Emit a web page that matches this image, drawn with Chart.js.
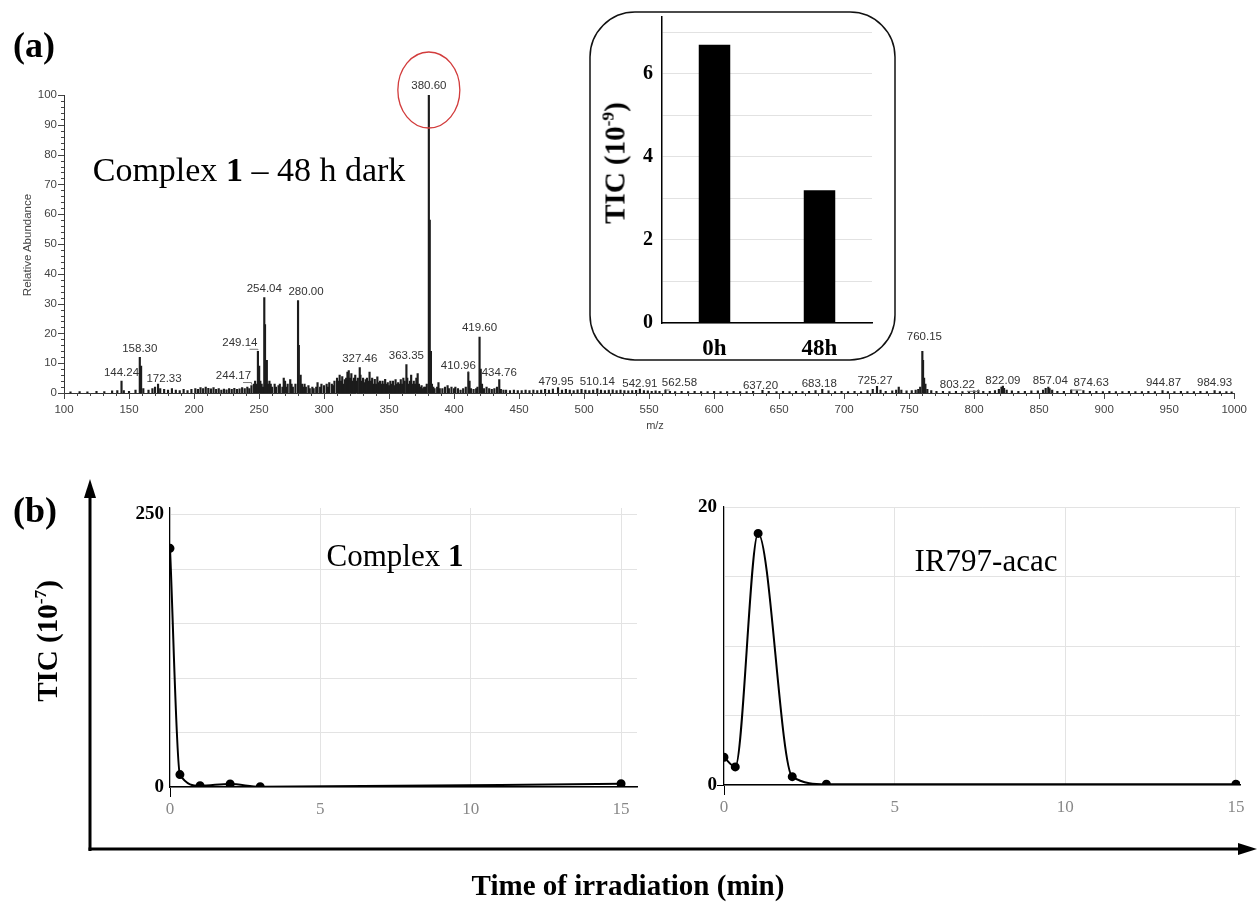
<!DOCTYPE html>
<html>
<head>
<meta charset="utf-8">
<script src="https://cdn.jsdelivr.net/npm/chart.js@4.4.0/dist/chart.umd.min.js"></script>
<style>
body { margin:0; background:#fff; width:1257px; height:907px; position:relative; overflow:hidden; }
canvas, svg, .txt { position:absolute; }
.txt { white-space:nowrap; line-height:1; font-family:"Liberation Serif", serif; color:#000; transform:translate(-50%,-50%); }
.rot { transform:translate(-50%,-50%) rotate(-90deg); }
.txt sup { font-size:0.6em; line-height:0; }
</style>
</head>
<body>
<canvas id="spectrum" width="1257" height="400" style="left:0;top:40px"></canvas>
<svg width="1257" height="907" style="left:0;top:0">
  <rect x="590" y="12" width="305" height="348" rx="45" ry="45" fill="#fff" stroke="#111" stroke-width="1.5"/>
  <line x1="90" y1="851" x2="90" y2="496" stroke="#000" stroke-width="3"/>
  <polygon points="90,479 84,498 96,498" fill="#000"/>
  <line x1="88.5" y1="849" x2="1240" y2="849" stroke="#000" stroke-width="3"/>
  <polygon points="1257,849 1238,843 1238,855" fill="#000"/>
</svg>
<canvas id="inset" width="305" height="348" style="left:590px;top:12px"></canvas>
<canvas id="chartComplex" width="560" height="340" style="left:100px;top:490px"></canvas>
<canvas id="chartIR" width="597" height="340" style="left:660px;top:490px"></canvas>

<div class="txt" style="left:34px;top:45px;font-size:36px;font-weight:bold">(a)</div>
<div class="txt" style="left:35px;top:510px;font-size:36px;font-weight:bold">(b)</div>
<div class="txt" style="left:249px;top:170px;font-size:34px">Complex <b>1</b> – 48 h dark</div>
<div class="txt rot" style="left:28px;top:245px;font-family:'Liberation Sans',sans-serif;font-size:11.5px;color:#444">Relative Abundance</div>
<div class="txt" style="left:655px;top:425px;font-family:'Liberation Sans',sans-serif;font-size:11px;color:#444">m/z</div>
<div class="txt rot" style="left:615px;top:163px;font-size:29px;font-weight:bold">TIC (10<sup>-9</sup>)</div>
<div class="txt rot" style="left:47px;top:641px;font-size:29px;font-weight:bold">TIC (10<sup>-7</sup>)</div>
<div class="txt" style="left:395px;top:555px;font-size:31px">Complex <b>1</b></div>
<div class="txt" style="left:986px;top:560px;font-size:31px">IR797-acac</div>
<div class="txt" style="left:628px;top:885px;font-size:29px;font-weight:bold">Time of irradiation (min)</div>

<script>
// ---- (a) mass spectrum, m/z vs relative abundance ----
var spectrum = [
  [105,0.4],[112,0.5],[118,0.4],[125,0.6],[131,0.5],[137,0.7],[141,0.8],[144.24,4],[146,0.8],[150,0.6],
  [155,1.0],[158.30,12],[159.3,9],[161,1.5],[165,1],[168,1.5],[170,2],[172.33,3],[174,1.5],[177,1.2],
  [180,1],[183,1.5],[186,1],[189,0.8],[192,1.2],[195,0.8],[198,1.2],[201,1.5],[203,1.2],[205,1.8],
  [207,1.5],[209,2],[211,1.6],[213,1.4],[215,1.8],[217,1.2],[219,1.5],[221,1],[223,1.3],[225,1.1],
  [227,1.5],[229,1.2],[231,1.6],[233,1.2],[235,1.4],[237,1.8],[239,1.5],[241,2],[242.5,1.5],[244.17,2.5],
  [246,3],[247,4],[248,3],[249.14,14],[250.1,9],[251,4],[252,3],[253,2],[254.04,32],[254.6,23],
  [255.5,4],[256,11],[257,3],[258,4],[259,3],[260,2],[262,3],[263,2],[265,2.5],[266,3],
  [268,2],[269,5],[270,4],[271,2],[272,3],[274,4.5],[275,3],[276,2],[278,3],[280.00,31],
  [280.6,16],[282,6],[283,3],[284,2],[285,3],[286,2],[288,2.5],[289,1.5],[291,2],[292,1.5],
  [294,2],[295,3.5],[297,2],[298,3],[300,2.5],[302,3],[303,2],[304,3.5],[306,3],[307,2.5],
  [308,4],[310,5],[311,4],[312,6],[313,4],[314,5.5],[315,3],[316,4.5],[317,5],[318,7],
  [319,7.5],[320,5],[321,6.5],[322,4],[323,5],[324,6],[325,4],[326,5],[327.46,8.5],[328,6],
  [329,4],[330,5],[331,3.5],[332,4.5],[333,5],[334,4],[335,7],[336,4],[337,5],[338,3],
  [339,4.6],[340,3],[341,5.4],[342,3.5],[343,4],[344,3],[345,4],[346,3],[347,4.6],[348,3],
  [349,3.5],[350,2.5],[351,4],[352,3],[353,4],[354,2.5],[355,4.5],[356,3],[357,3.5],[358,3],
  [359,4.5],[360,3],[361,5],[362,4],[363.35,9.5],[364,5],[365,3],[366,4],[367,6],[368,3],
  [369,4],[370,3],[371,5],[372,6.5],[373,3],[374,2],[375,2.5],[376,1.5],[377,2],[378,2],
  [379,3],[380.60,100],[381.3,58],[382.2,14],[383,3],[384,2],[385,1.5],[387,2],[388,3.5],[389,1.5],
  [391,1.5],[393,2],[395,2.5],[396,1.5],[398,2],[400,1.5],[401,2],[403,1.5],[405,1],[407,1.5],
  [409,2],[410.96,7],[411.9,4],[413,1.5],[415,1.2],[417,1.5],[418,2],[419.60,18.8],[420.5,8],[421.5,3],
  [423,1.5],[425,2],[427,1.5],[429,1.2],[431,1.5],[433,2],[434.76,4.5],[436,1.2],[438,1],[440,1],
  [443,0.8],[446,1],[449,0.8],[452,0.8],[455,1],[458,0.8],[461,1],[464,0.8],[467,1],[470,1.2],
  [473,1],[476,1.3],[479.95,1.8],[483,1],[486,1.2],[489,1],[492,0.8],[495,1.1],[498,1.2],[501,1],
  [504,0.8],[507,1],[510.14,1.4],[513,1],[516,0.8],[519,1],[522,1.1],[525,0.8],[528,1],[531,0.8],
  [534,0.7],[537,0.8],[540,0.9],[542.91,1.3],[546,0.8],[549,0.7],[552,0.6],[555,0.7],[558,0.6],[562.58,1],
  [566,0.6],[570,0.5],[575,0.6],[580,0.5],[585,0.6],[590,0.5],[595,0.5],[600,0.6],[605,0.5],[610,0.5],
  [615,0.6],[620,0.5],[625,0.5],[630,0.6],[637.20,0.9],[642,0.6],[648,0.5],[653,0.6],[658,0.5],[663,0.6],
  [668,0.5],[673,0.6],[678,0.8],[683.18,1.2],[688,0.7],[693,0.5],[698,0.6],[703,0.5],[708,0.6],[713,0.5],
  [718,0.8],[722,1.2],[725.27,2.2],[728,1],[732,0.6],[737,0.7],[740,1],[742,2],[744,1],[748,0.7],
  [752,0.8],[755,1],[757,1.2],[758.5,2],[760.15,14],[760.7,11],[761.5,5],[762.5,3],[764,1.2],[767,0.8],
  [771,0.6],[776,0.6],[781,0.5],[786,0.6],[791,0.5],[796,0.6],[800,0.7],[803.22,0.9],[807,0.6],[812,0.6],
  [816,0.8],[819,1.2],[821,2],[822.09,2.3],[823,1.6],[825,1],[829,0.7],[834,0.6],[839,0.6],[844,0.7],
  [849,0.7],[853,1],[855,1.6],[857.04,2],[858,1.5],[860,1],[864,0.6],[869,0.6],[874.63,1],[879,0.7],
  [884,0.8],[889,0.6],[894,0.6],[899,0.5],[904,0.6],[909,0.5],[914,0.5],[919,0.6],[924,0.5],[929,0.5],
  [934,0.6],[939,0.5],[944.87,0.8],[949,0.5],[954,0.5],[959,0.6],[964,0.5],[969,0.5],[974,0.6],[979,0.5],
  [984.93,0.8],[989,0.5],[994,0.5],[998,0.4]
];
var basePeak = 380.60;
var peakLabels = [144.24,158.30,172.33,244.17,249.14,254.04,280.00,327.46,363.35,380.60,410.96,419.60,434.76,
  479.95,510.14,542.91,562.58,637.20,683.18,725.27,760.15,803.22,822.09,857.04,874.63,944.87,984.93];
// label nudges in px: dx, dy, leader line
var labelShift = [[0,0,0],[0,0,0],[6,4,0],[-18,-1,1],[-18,0,1],[0,0,0],[8,0,0],[0,0,0],[0,0,0],[0,0,0],[-10,2,1],[0,0,0],[0,2,0],
  [-2,3,0],[0,2,0],[0,3,0],[14,2,1],[-2,4,0],[-3,3,0],[-2,3,0],[2,-6,0],[-21,3,1],[0,3,0],[2,3,0],[20,2,1],[1,1,0],[0,1,0]];

var xTickMin = 100, xTickMax = 1000;

// ---- inset bars ----
var insetCats = ['0h', '48h'];
var insetTIC = [6.7, 3.2];

// ---- (b) time of irradiation ----
var timeMin = [0, 0.33, 1, 2, 3, 15];
var complex1TIC = [219, 11.4, 1.2, 2.8, 0.2, 3];
var ir797TIC = [2.0, 1.3, 18.1, 0.6, 0.05, 0.05];

function abundanceAt(mz) {
  var best = spectrum[0];
  spectrum.forEach(function (p) { if (Math.abs(p[0] - mz) < Math.abs(best[0] - mz)) best = p; });
  return best[1];
}

var specDecor = {
  id: 'specDecor',
  afterDraw: function (chart) {
    var ctx = chart.ctx, x = chart.scales.x, y = chart.scales.y;
    ctx.save();
    // ruler ticks
    ctx.strokeStyle = '#444';
    ctx.lineWidth = 1;
    ctx.beginPath();
    for (var v = xTickMin; v <= xTickMax; v += 10) {
      var px = Math.round(x.getPixelForValue(v)) + 0.5;
      ctx.moveTo(px, y.bottom);
      ctx.lineTo(px, y.bottom + (v % 50 === 0 ? 6 : 3));
    }
    for (var w = 0; w <= 100; w += 2) {
      var py = Math.round(y.getPixelForValue(w)) + 0.5;
      ctx.moveTo(x.left, py);
      ctx.lineTo(x.left - (w % 10 === 0 ? 6 : 3), py);
    }
    ctx.stroke();

    // peak labels
    ctx.font = '11.5px "Liberation Sans", Arial, sans-serif';
    ctx.fillStyle = '#333';
    ctx.textAlign = 'center';
    ctx.textBaseline = 'bottom';
    peakLabels.forEach(function (mz, i) {
      var s = labelShift[i];
      var px = x.getPixelForValue(mz);
      var top = y.getPixelForValue(abundanceAt(mz));
      var cx = px + s[0], by = top - 3 + s[1];
      var txt = mz.toFixed(2);
      ctx.fillText(txt, cx, by);
      if (s[2]) {
        var tw = ctx.measureText(txt).width;
        var sx = s[0] < 0 ? cx + tw / 2 - 8 : cx - tw / 2 + 8;
        ctx.beginPath();
        ctx.strokeStyle = '#777';
        ctx.moveTo(sx, by + 1);
        ctx.lineTo(px, by + 1);
        ctx.lineTo(px, top - 1);
        ctx.stroke();
      }
    });

    // red circle round the base peak
    ctx.strokeStyle = '#d23c3c';
    ctx.lineWidth = 1.3;
    ctx.beginPath();
    ctx.ellipse(x.getPixelForValue(basePeak), y.getPixelForValue(100) - 5, 31, 38, 0, 0, Math.PI * 2);
    ctx.stroke();
    ctx.restore();
  }
};

var sansTick = { family: 'Liberation Sans', size: 11.5 };

new Chart(document.getElementById('spectrum'), {
  type: 'bar',
  data: {
    datasets: [{
      data: spectrum.map(function (p) { return { x: p[0], y: p[1] }; }),
      backgroundColor: '#1c1c1c',
      barThickness: 1.5
    }]
  },
  options: {
    responsive: false,
    animation: false,
    layout: { padding: { top: 55, right: 12, left: 0, bottom: 0 } },
    plugins: { legend: { display: false }, tooltip: { enabled: false } },
    scales: {
      x: {
        type: 'linear', min: xTickMin, max: xTickMax, offset: false,
        grid: { display: false, drawTicks: false, offset: false },
        border: { color: '#333', width: 1 },
        ticks: {
          stepSize: 50, font: sansTick, color: '#444', padding: 10, maxRotation: 0, autoSkip: false,
          callback: function (v) { return String(v); }
        },
        afterFit: function (s) { s.height = 47; }
      },
      y: {
        min: 0, max: 100,
        grid: { display: false, drawTicks: false },
        border: { color: '#333', width: 1 },
        ticks: { stepSize: 10, font: sansTick, color: '#444', padding: 7 },
        afterFit: function (s) { s.width = 64; }
      }
    }
  },
  plugins: [specDecor]
});

var serifBold = function (size) { return { family: 'Liberation Serif', size: size, weight: 'bold' }; };

new Chart(document.getElementById('inset'), {
  type: 'bar',
  data: {
    labels: insetCats,
    datasets: [{ data: insetTIC, backgroundColor: '#000', barPercentage: 0.3, categoryPercentage: 1 }]
  },
  options: {
    responsive: false,
    animation: false,
    layout: { padding: { top: 5, right: 23, left: 0, bottom: 0 } },
    plugins: { legend: { display: false }, tooltip: { enabled: false } },
    scales: {
      x: {
        grid: { display: false, drawTicks: false },
        border: { color: '#000', width: 1.5 },
        ticks: { font: serifBold(23), color: '#000', padding: 12 },
        afterFit: function (s) { s.height = 37; s.paddingLeft = 0; s.paddingRight = 0; }
      },
      y: {
        min: 0, max: 7.37,
        grid: { color: '#e2e2e2', drawTicks: false },
        border: { color: '#000', width: 1.5 },
        ticks: {
          stepSize: 1, includeBounds: false, font: serifBold(20), color: '#000', padding: 9,
          callback: function (v) { return v % 2 === 0 ? v : ''; }
        },
        afterFit: function (s) { s.width = 72; s.paddingTop = 0; s.paddingBottom = 0; }
      }
    }
  }
});

function timeChart(id, values, yMax, yStep, yLabels, xMax, geo) {
  return new Chart(document.getElementById(id), {
    type: 'line',
    data: {
      datasets: [{
        data: timeMin.map(function (t, i) { return { x: t, y: values[i] }; }),
        borderColor: '#000',
        backgroundColor: '#000',
        borderWidth: 2,
        pointRadius: 3.5,
        cubicInterpolationMode: 'monotone'
      }]
    },
    options: {
      responsive: false,
      animation: false,
      layout: { padding: { top: geo.top, right: geo.right, left: 0, bottom: 0 } },
      plugins: { legend: { display: false }, tooltip: { enabled: false } },
      scales: {
        x: {
          type: 'linear', min: 0, max: xMax,
          grid: {
            color: '#e3e3e3', tickLength: 10,
            tickColor: function (c) { return c.tick && c.tick.value === 0 ? '#000' : 'rgba(0,0,0,0)'; }
          },
          border: { color: '#000', width: 1.5 },
          ticks: { stepSize: 5, includeBounds: false, font: { family: 'Liberation Serif', size: 17 }, color: '#888', padding: 2 },
          afterFit: function (s) { s.height = geo.xh; s.paddingLeft = 0; s.paddingRight = 0; }
        },
        y: {
          min: 0, max: yMax,
          grid: {
            color: '#e3e3e3', drawTicks: geo.yTick > 0, tickLength: geo.yTick,
            tickColor: function (c) { return c.tick && c.tick.value === 0 ? '#000' : 'rgba(0,0,0,0)'; }
          },
          border: { color: '#000', width: 1.2 },
          ticks: {
            stepSize: yStep, includeBounds: false, font: serifBold(19), color: '#000', padding: geo.yPad,
            callback: function (v) { return yLabels.indexOf(v) >= 0 ? v : ''; }
          },
          afterFit: function (s) { s.width = geo.yw; s.paddingTop = 0; s.paddingBottom = 0; }
        }
      }
    }
  });
}

timeChart('chartComplex', complex1TIC, 256, 50, [0, 250], 15.53, { top: 18, right: 23, xh: 43, yw: 70, yTick: 0, yPad: 6 });
timeChart('chartIR', ir797TIC, 20, 5, [0, 20], 15.12, { top: 17, right: 17, xh: 45, yw: 64, yTick: 7, yPad: 0 });
</script>
</body>
</html>
